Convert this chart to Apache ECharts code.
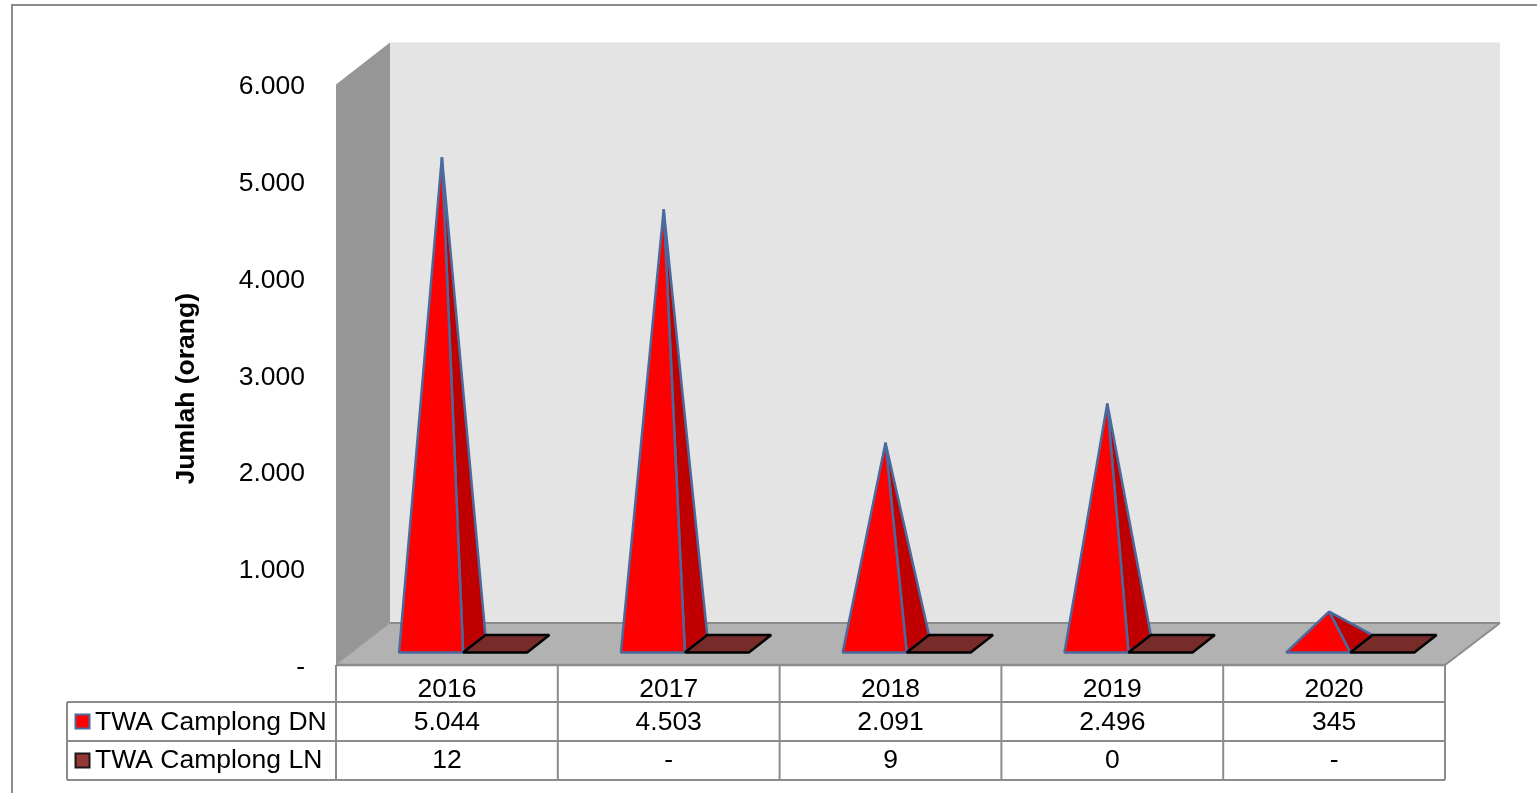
<!DOCTYPE html>
<html>
<head>
<meta charset="utf-8">
<style>html,body{margin:0;padding:0;background:#fff}#c{width:1537px;height:793px}</style>
<script src="https://cdn.jsdelivr.net/npm/echarts@6/dist/echarts.min.js"></script>
</head>
<body>
<div id="c"></div>
<script>
const categories = ['2016', '2017', '2018', '2019', '2020'];
const dnName = 'TWA Camplong DN';
const lnName = 'TWA Camplong LN';
const dnValues = [5044, 4503, 2091, 2496, 345];
const lnValues = [12, null, 9, 0, null];

const FONT = '"Liberation Sans", Arial, sans-serif';
const FS = 26.5;
const LINE = '#8c8c8c';
// 3D projection: depth offset of the back wall, in pixels
const DX = 54, DY = 42;
const BAR = 64;
const F_FRONT = 0.3, F_BACK = 0.713;
const ROW1 = 37, ROW2 = 76, ROW3 = 115;

function fmt(v) {
  if (v === null || v === undefined) return '-';
  if (v === 0) return '0';
  return String(v).replace(/\B(?=(\d{3})+$)/g, '.');
}
function dotFmt(v) { return v === 0 ? '-' : fmt(v); }

function cellText(x, y, text) {
  return { type: 'text', silent: true, style: { x, y, text, fill: '#000', font: FS + 'px ' + FONT, align: 'center', verticalAlign: 'middle' } };
}
function box(c, key) {
  return { type: 'rect', silent: true, shape: { x: 75.5, y: c.y + c.height + key, width: 14, height: 14 } };
}
function poly(points, fill, stroke, lw) {
  return { type: 'polygon', silent: true, shape: { points }, style: { fill, stroke, lineWidth: lw, lineJoin: 'bevel' } };
}

function renderPyramid(params, api, side, colors, rowY, rawList) {
  const i = api.value(0);
  const v = api.value(1) || 0;
  const base = api.coord([i, 0]);
  const top = api.coord([i, v]);
  const cx = base[0];
  const x0 = side === 0 ? cx - BAR : cx;
  const x1 = x0 + BAR;
  const y = base[1];
  const fl = [x0 + DX * F_FRONT, y - DY * F_FRONT];
  const fr = [x1 + DX * F_FRONT, y - DY * F_FRONT];
  const br = [x1 + DX * F_BACK, y - DY * F_BACK];
  const bl = [x0 + DX * F_BACK, y - DY * F_BACK];
  const apex = [(x0 + x1) / 2 + DX / 2, top[1] - DY / 2 + 1];
  const children = [];
  if (side === 1) {
    children.push(poly([fl, fr, br, bl], colors.front, colors.stroke, 2.5));
  } else {
    children.push(poly([fr, br, apex], colors.side, colors.stroke, 2.5));
    children.push(poly([fl, fr, apex], colors.front, colors.stroke, 2.5));
  }
  children.push(cellText(cx, y + rowY, fmt(rawList[i])));
  return { type: 'group', children };
}

const option = {
  animation: false,
  backgroundColor: '#ffffff',
  textStyle: { fontFamily: FONT },
  tooltip: { show: false },
  graphic: [{
    type: 'rect', z: -1, silent: true,
    shape: { x: 12, y: 5, width: 1600, height: 900 },
    style: { fill: '#fff', stroke: LINE, lineWidth: 2 }
  }],
  grid: { left: 336, top: 84.5, width: 1109, height: 580.5, containLabel: false },
  xAxis: {
    type: 'category', data: categories,
    axisLine: { show: false }, axisTick: { show: false }, splitLine: { show: false },
    axisLabel: { color: '#000', fontSize: FS, fontFamily: FONT, margin: 11 }
  },
  yAxis: {
    type: 'value', min: 0, max: 6000, interval: 1000,
    axisLine: { show: false }, axisTick: { show: false }, splitLine: { show: false },
    axisLabel: { color: '#000', fontSize: FS, fontFamily: FONT, margin: 31, formatter: dotFmt, verticalAlign: 'top', lineHeight: 5 },
    name: 'Jumlah (orang)', nameLocation: 'middle', nameRotate: 90, nameGap: 136,
    nameTextStyle: { color: '#000', fontSize: 26.5, fontWeight: 'bold', fontFamily: FONT, padding: [0, 28, 0, 0] }
  },
  series: [
    {
      type: 'custom', name: 'walls', silent: true, z: 1, clip: false,
      data: [[0, 0]],
      renderItem(params) {
        const c = params.coordSys;
        const L = c.x, T = c.y, R = c.x + c.width, B = c.y + c.height;
        const rows = [B + ROW1, B + ROW2, B + ROW3];
        const children = [
          poly([[L + DX, T - DY], [R + DX + 1, T - DY], [R + DX + 1, B - DY], [L + DX, B - DY]], '#e4e4e4', null, 0),
          poly([[L, T], [L + DX, T - DY], [L + DX, B - DY], [L, B]], '#969696', null, 0),
          poly([[L, B], [L + DX, B - DY], [R + DX + 1, B - DY], [R, B]], '#b2b2b2', null, 0),
          { type: 'line', silent: true, shape: { x1: L + DX, y1: B - DY, x2: R + DX + 1, y2: B - DY }, style: { stroke: LINE, lineWidth: 2 } },
          { type: 'line', silent: true, shape: { x1: L, y1: B, x2: L + DX, y2: B - DY }, style: { stroke: '#a0a0a0', lineWidth: 1 } },
          { type: 'line', silent: true, shape: { x1: R, y1: B, x2: R + DX + 1, y2: B - DY }, style: { stroke: LINE, lineWidth: 2 } },
          { type: 'line', silent: true, shape: { x1: L, y1: B, x2: R, y2: B }, style: { stroke: LINE, lineWidth: 2.5 } }
        ];
        const step = c.width / categories.length;
        for (let k = 0; k <= categories.length; k++) {
          const x = L + k * step;
          children.push({ type: 'line', silent: true, shape: { x1: x, y1: B, x2: x, y2: rows[2] }, style: { stroke: LINE, lineWidth: 2 } });
        }
        rows.forEach(y => children.push({ type: 'line', silent: true, shape: { x1: 67, y1: y, x2: R, y2: y }, style: { stroke: LINE, lineWidth: 2 } }));
        children.push({ type: 'line', silent: true, shape: { x1: 67, y1: rows[0], x2: 67, y2: rows[2] }, style: { stroke: LINE, lineWidth: 2 } });
        children.push({ type: 'text', silent: true, style: { x: 95, y: B + 57.5, text: dnName, fill: '#000', font: FS + 'px ' + FONT, align: 'left', verticalAlign: 'middle' } });
        children.push({ type: 'text', silent: true, style: { x: 95, y: B + 96, text: lnName, fill: '#000', font: FS + 'px ' + FONT, align: 'left', verticalAlign: 'middle' } });
        const k1 = box(c, 49.5); k1.style = { fill: '#ff0000', stroke: '#4a6a9e', lineWidth: 2 };
        const k2 = box(c, 88.5); k2.style = { fill: '#953735', stroke: '#1a1a1a', lineWidth: 2 };
        children.push(k1, k2);
        return { type: 'group', children };
      }
    },
    {
      type: 'custom', name: dnName, silent: true, z: 2, clip: false,
      encode: { x: 0, y: 1 },
      data: dnValues.map((v, i) => [i, v]),
      renderItem(p, api) {
        return renderPyramid(p, api, 0, { front: '#ff0000', side: '#c00000', stroke: '#4a6a9e' }, 57.5, dnValues);
      }
    },
    {
      type: 'custom', name: lnName, silent: true, z: 3, clip: false,
      encode: { x: 0, y: 1 },
      data: lnValues.map((v, i) => [i, v === null ? 0 : v]),
      renderItem(p, api) {
        return renderPyramid(p, api, 1, { front: '#772c2a', side: '#772c2a', stroke: '#000' }, 96, lnValues);
      }
    }
  ]
};
const chart = echarts.init(document.getElementById('c'), null, { renderer: 'canvas' });
chart.setOption(option);
</script>
</body>
</html>
